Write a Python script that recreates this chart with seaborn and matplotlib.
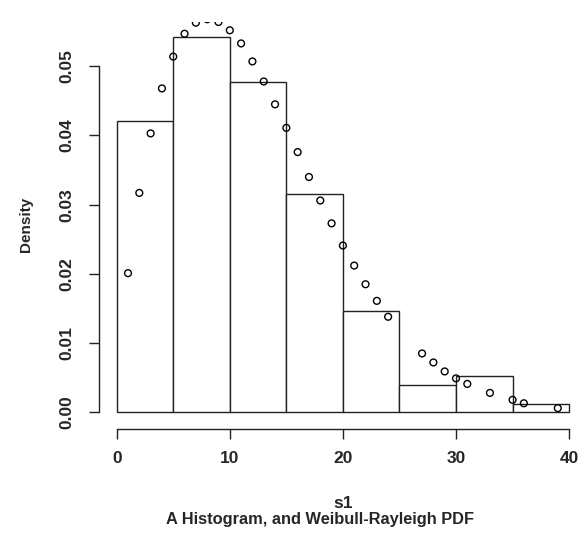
import matplotlib
matplotlib.use("Agg")
import matplotlib.pyplot as plt
import seaborn as sns
import pandas as pd

# ---- data ----
bin_edges = [0, 5, 10, 15, 20, 25, 30, 35, 40]
bin_density = [0.0421, 0.0543, 0.0477, 0.0315, 0.0147, 0.0040, 0.0052, 0.0012]

pdf_x = [1, 2, 3, 4, 5, 6, 7, 8, 9, 10, 11, 12, 13, 14, 15, 16, 17, 18, 19, 20,
         21, 22, 23, 24, 27, 28, 29, 30, 31, 33, 35, 36, 39]
pdf_y = [0.0201, 0.0317, 0.0403, 0.0468, 0.0514, 0.0547, 0.0563, 0.0568, 0.0564,
         0.0552, 0.0533, 0.0507, 0.0478, 0.0445, 0.0411, 0.0376, 0.0340, 0.0306,
         0.0273, 0.0241, 0.0212, 0.0185, 0.0161, 0.0138, 0.0085, 0.0072, 0.0059,
         0.0049, 0.0041, 0.0028, 0.0018, 0.0013, 0.0006]

x_ticks = [0, 10, 20, 30, 40]
y_ticks = [0.00, 0.01, 0.02, 0.03, 0.04, 0.05]
y_tick_labels = ["0.00", "0.01", "0.02", "0.03", "0.04", "0.05"]

x_label = "s1"
y_label = "Density"
title = "A Histogram, and Weibull-Rayleigh PDF"

# ---- style ----
sns.set_style("ticks")
plt.rcParams["font.family"] = ["Liberation Sans Narrow", "Liberation Sans", "DejaVu Sans"]
plt.rcParams["font.weight"] = "bold"

W, H = 585, 535
fig = plt.figure(figsize=(W / 100, H / 100), dpi=100)
fig.patch.set_facecolor("white")

left_px, right_px, top_px, bot_px = 98.6, 587.2, 21.5, 427.3
ax = fig.add_axes([left_px / W, 1 - bot_px / H, (right_px - left_px) / W, (bot_px - top_px) / H])
ax.set_facecolor("white")

hist_df = pd.DataFrame({
    "mid": [(a + b) / 2 for a, b in zip(bin_edges[:-1], bin_edges[1:])],
    "density": bin_density,
})
sns.histplot(data=hist_df, x="mid", weights="density", bins=bin_edges, stat="count",
             color="white", edgecolor="#222222", linewidth=1.0, alpha=1, ax=ax)

pdf_df = pd.DataFrame({"x": pdf_x, "y": pdf_y})
sns.scatterplot(data=pdf_df, x="x", y="y", marker="o", s=24, facecolor="none",
                edgecolor="black", linewidth=1.0, ax=ax, zorder=3)

ax.set_xlim(-1.6, 41.6)
ax.set_ylim(-0.002172, 0.05647)

for side in ["top", "right"]:
    ax.spines[side].set_visible(False)
ax.spines["left"].set_bounds(0, 0.05)
ax.spines["bottom"].set_bounds(0, 40)
ax.spines["bottom"].set_position(("outward", 1.2))
for side in ["left", "bottom"]:
    ax.spines[side].set_linewidth(1.0)
    ax.spines[side].set_color("#222222")

ax.set_xticks(x_ticks)
ax.set_xticklabels([str(t) for t in x_ticks], fontsize=12.5, fontweight="bold")
ax.set_yticks(y_ticks)
ax.set_yticklabels(y_tick_labels, fontsize=12.5, fontweight="bold", rotation=90, va="center")
ax.tick_params(axis="x", length=7, width=1.0, pad=9, color="#222222")
ax.tick_params(axis="y", length=7.2, width=1.0, pad=10, color="#222222")
ax.set_xlabel("")
ax.set_ylabel("")

fig.text(343 / W, 1 - 508 / H, x_label, ha="center", va="baseline", fontsize=12.5, fontweight="bold")
fig.text(320 / W, 1 - 524 / H, title, ha="center", va="baseline", fontsize=11.8, fontweight="bold")
fig.text(26 / W, 1 - 224 / H, y_label, ha="center", va="center", rotation=90,
         fontsize=11, fontweight="bold")

fig.savefig("out.png", dpi=100)
